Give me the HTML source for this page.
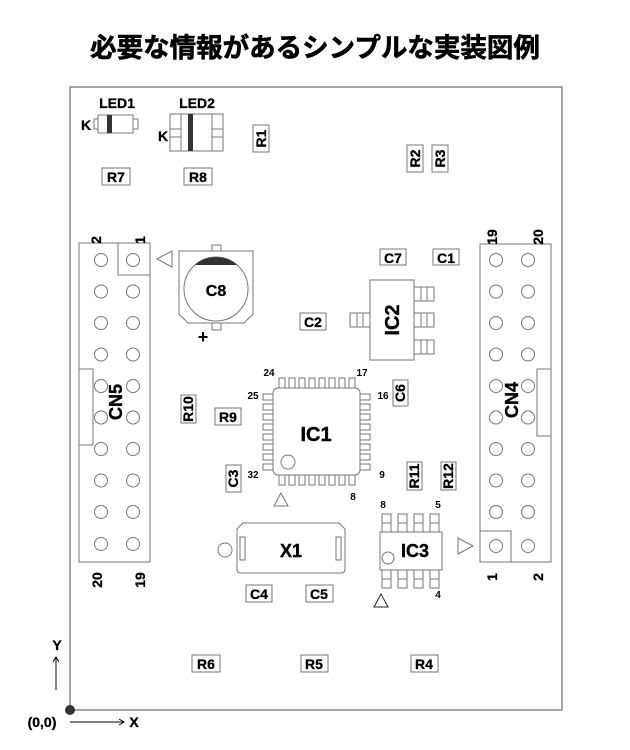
<!DOCTYPE html>
<html><head><meta charset="utf-8"><style>
html,body{margin:0;padding:0;background:#fff;}
svg{display:block;font-family:"Liberation Sans","Noto Sans CJK JP",sans-serif;}
.b{fill:none;stroke:#888;stroke-width:1.5}
.p{fill:#fff;stroke:#777;stroke-width:1}
.t{font-weight:bold;font-size:14px;fill:#000;stroke:#000;stroke-width:0.3}
.s{font-weight:bold;font-size:10px;fill:#000}
.l{font-weight:bold;font-size:18px;fill:#000;stroke:#000;stroke-width:0.4}
</style></head><body>
<svg width="630" height="750" viewBox="0 0 630 750">
<text x="315" y="57" text-anchor="middle" style="font-weight:bold;font-size:26.5px;stroke:#000;stroke-width:0.6">必要な情報があるシンプルな実装図例</text>
<rect x="70" y="87" width="492" height="623" class="b"/>

<text x="117" y="108" text-anchor="middle" class="t">LED1</text>
<text x="86" y="130" text-anchor="middle" class="t">K</text>
<rect x="94" y="119" width="5" height="10" class="p"/>
<rect x="133" y="119" width="5" height="10" class="p"/>
<rect x="98" y="115" width="35" height="18" class="p"/>
<rect x="107" y="115" width="5" height="18" fill="#333"/>
<text x="197" y="108" text-anchor="middle" class="t">LED2</text>
<text x="163" y="141" text-anchor="middle" class="t">K</text>
<rect x="170" y="114" width="53" height="37" class="p"/>
<line x1="181" y1="114" x2="181" y2="151" class="p"/>
<line x1="212" y1="114" x2="212" y2="151" class="p"/>
<line x1="170" y1="129" x2="181" y2="129" class="p"/><line x1="170" y1="137" x2="181" y2="137" class="p"/>
<line x1="212" y1="129" x2="223" y2="129" class="p"/><line x1="212" y1="137" x2="223" y2="137" class="p"/>
<rect x="188" y="114" width="5" height="37" fill="#333"/>

<g>
<rect x="102" y="168" width="28" height="17" class="p"/><text x="116" y="182" text-anchor="middle" class="t">R7</text>
<rect x="184" y="168" width="28" height="17" class="p"/><text x="198" y="182" text-anchor="middle" class="t">R8</text>
<rect x="380" y="249" width="26" height="16" class="p"/><text x="393" y="263" text-anchor="middle" class="t">C7</text>
<rect x="433" y="249" width="26" height="16" class="p"/><text x="446" y="263" text-anchor="middle" class="t">C1</text>
<rect x="300" y="313" width="26" height="17" class="p"/><text x="313" y="327" text-anchor="middle" class="t">C2</text>
<rect x="215" y="408" width="26" height="17" class="p"/><text x="228" y="422" text-anchor="middle" class="t">R9</text>
<rect x="246" y="585" width="26" height="17" class="p"/><text x="259" y="599" text-anchor="middle" class="t">C4</text>
<rect x="306" y="585" width="27" height="17" class="p"/><text x="319" y="599" text-anchor="middle" class="t">C5</text>
<rect x="192" y="655" width="28" height="17" class="p"/><text x="206" y="669" text-anchor="middle" class="t">R6</text>
<rect x="301" y="655" width="27" height="17" class="p"/><text x="314" y="669" text-anchor="middle" class="t">R5</text>
<rect x="411" y="655" width="27" height="17" class="p"/><text x="424" y="669" text-anchor="middle" class="t">R4</text>
</g>
<g>
<rect x="253" y="125" width="16" height="27" class="p"/><text transform="translate(266,138.5) rotate(-90)" text-anchor="middle" class="t">R1</text>
<rect x="407" y="145" width="16" height="27" class="p"/><text transform="translate(420,158.5) rotate(-90)" text-anchor="middle" class="t">R2</text>
<rect x="432" y="145" width="16" height="27" class="p"/><text transform="translate(445,158.5) rotate(-90)" text-anchor="middle" class="t">R3</text>
<rect x="181" y="395" width="15" height="28" class="p"/><text transform="translate(193,409) rotate(-90)" text-anchor="middle" class="t">R10</text>
<rect x="393" y="380" width="15" height="26" class="p"/><text transform="translate(405,393) rotate(-90)" text-anchor="middle" class="t">C6</text>
<rect x="226" y="465" width="15" height="27" class="p"/><text transform="translate(238,478.5) rotate(-90)" text-anchor="middle" class="t">C3</text>
<rect x="407" y="462" width="15" height="28" class="p"/><text transform="translate(419,476) rotate(-90)" text-anchor="middle" class="t">R11</text>
<rect x="441" y="462" width="15" height="28" class="p"/><text transform="translate(453,476) rotate(-90)" text-anchor="middle" class="t">R12</text>
</g>

<rect x="79" y="243" width="71" height="319" class="p"/>
<rect x="118" y="243" width="32" height="32" class="p"/>
<rect x="79" y="369" width="14" height="76" class="p"/>
<g class="p">
<circle cx="101" cy="260" r="6.5"/><circle cx="133" cy="260" r="6.5"/>
<circle cx="101" cy="291.5" r="6.5"/><circle cx="133" cy="291.5" r="6.5"/>
<circle cx="101" cy="323" r="6.5"/><circle cx="133" cy="323" r="6.5"/>
<circle cx="101" cy="354.5" r="6.5"/><circle cx="133" cy="354.5" r="6.5"/>
<circle cx="101" cy="386" r="6.5"/><circle cx="133" cy="386" r="6.5"/>
<circle cx="101" cy="417.5" r="6.5"/><circle cx="133" cy="417.5" r="6.5"/>
<circle cx="101" cy="449" r="6.5"/><circle cx="133" cy="449" r="6.5"/>
<circle cx="101" cy="480.5" r="6.5"/><circle cx="133" cy="480.5" r="6.5"/>
<circle cx="101" cy="512" r="6.5"/><circle cx="133" cy="512" r="6.5"/>
<circle cx="101" cy="544" r="6.5"/><circle cx="133" cy="544" r="6.5"/>
</g>
<polygon points="157,259 172,251 172,267" class="p"/>
<text transform="translate(122,402) rotate(-90)" text-anchor="middle" class="l">CN5</text>
<text transform="translate(101,240) rotate(-90)" text-anchor="middle" class="t">2</text>
<text transform="translate(145,240) rotate(-90)" text-anchor="middle" class="t">1</text>
<text transform="translate(102,580) rotate(-90)" text-anchor="middle" class="t">20</text>
<text transform="translate(145,580) rotate(-90)" text-anchor="middle" class="t">19</text>

<rect x="480" y="244" width="71" height="318" class="p"/>
<rect x="480" y="531" width="31" height="31" class="p"/>
<rect x="537" y="369" width="14" height="67" class="p"/>
<g class="p">
<circle cx="496" cy="260" r="6.5"/><circle cx="528" cy="260" r="6.5"/>
<circle cx="496" cy="291.5" r="6.5"/><circle cx="528" cy="291.5" r="6.5"/>
<circle cx="496" cy="323" r="6.5"/><circle cx="528" cy="323" r="6.5"/>
<circle cx="496" cy="354.5" r="6.5"/><circle cx="528" cy="354.5" r="6.5"/>
<circle cx="496" cy="386" r="6.5"/><circle cx="528" cy="386" r="6.5"/>
<circle cx="496" cy="417.5" r="6.5"/><circle cx="528" cy="417.5" r="6.5"/>
<circle cx="496" cy="449" r="6.5"/><circle cx="528" cy="449" r="6.5"/>
<circle cx="496" cy="480.5" r="6.5"/><circle cx="528" cy="480.5" r="6.5"/>
<circle cx="496" cy="512" r="6.5"/><circle cx="528" cy="512" r="6.5"/>
<circle cx="496" cy="546" r="6.5"/><circle cx="528" cy="546" r="6.5"/>
</g>
<polygon points="473,546 458,538 458,554" class="p"/>
<text transform="translate(518,400) rotate(-90)" text-anchor="middle" class="l">CN4</text>
<text transform="translate(497,237) rotate(-90)" text-anchor="middle" class="t">19</text>
<text transform="translate(543,237) rotate(-90)" text-anchor="middle" class="t">20</text>
<text transform="translate(497,577) rotate(-90)" text-anchor="middle" class="t">1</text>
<text transform="translate(543,577) rotate(-90)" text-anchor="middle" class="t">2</text>

<rect x="212" y="245" width="9" height="7" class="p"/>
<rect x="212" y="322" width="9" height="8" class="p"/>
<polygon points="179,251 253,251 253,314 244,323 188,323 179,314" class="p"/>
<circle cx="216" cy="289" r="32" class="p"/>
<path d="M195,265 A32,32 0 0 1 237,265 Z" fill="#333"/>
<text x="216" y="296" text-anchor="middle" class="t" style="font-size:16px">C8</text>
<text x="203" y="343" text-anchor="middle" style="font-weight:bold;font-size:18px">+</text>

<rect x="370" y="280" width="44" height="80" class="p"/>
<g class="p">
<rect x="414" y="287" width="20" height="14"/><line x1="421" y1="287" x2="421" y2="301"/><line x1="427" y1="287" x2="427" y2="301"/>
<rect x="414" y="313" width="20" height="14"/><line x1="421" y1="313" x2="421" y2="327"/><line x1="427" y1="313" x2="427" y2="327"/>
<rect x="414" y="340" width="20" height="14"/><line x1="421" y1="340" x2="421" y2="354"/><line x1="427" y1="340" x2="427" y2="354"/>
<rect x="350" y="313" width="20" height="14"/><line x1="357" y1="313" x2="357" y2="327"/><line x1="363" y1="313" x2="363" y2="327"/>
</g>
<text transform="translate(399,320) rotate(-90)" text-anchor="middle" class="l" style="font-size:20px">IC2</text>

<g class="p">
<path d="M279,388v-10h6v10M289,388v-10h6v10M299,388v-10h6v10M309,388v-10h6v10M319,388v-10h6v10M329,388v-10h6v10M339,388v-10h6v10M349,388v-10h6v10"/>
<path d="M279,475v10h6v-10M289,475v10h6v-10M299,475v10h6v-10M309,475v10h6v-10M319,475v10h6v-10M329,475v10h6v-10M339,475v10h6v-10M349,475v10h6v-10"/>
<path d="M273,394h-10v6h10M273,404h-10v6h10M273,414h-10v6h10M273,424h-10v6h10M273,434h-10v6h10M273,444h-10v6h10M273,454h-10v6h10M273,464h-10v6h10"/>
<path d="M360,394h10v6h-10M360,404h10v6h-10M360,414h10v6h-10M360,424h10v6h-10M360,434h10v6h-10M360,444h10v6h-10M360,454h10v6h-10M360,464h10v6h-10"/>
</g>
<rect x="273" y="388" width="87" height="87" rx="5" class="p"/>
<circle cx="288" cy="462" r="7" class="p"/>
<text x="316" y="441" text-anchor="middle" class="l" style="font-size:20px">IC1</text>
<text x="269" y="376" text-anchor="middle" class="s">24</text>
<text x="362" y="376" text-anchor="middle" class="s">17</text>
<text x="253" y="399" text-anchor="middle" class="s">25</text>
<text x="383" y="399" text-anchor="middle" class="s">16</text>
<text x="253" y="478" text-anchor="middle" class="s">32</text>
<text x="382" y="478" text-anchor="middle" class="s">9</text>
<text x="353" y="500" text-anchor="middle" class="s">8</text>
<polygon points="281,493 274,506 288,506" class="p"/>

<path d="M243,523 H339 L345,529 V569 Q345,573 341,573 H241 Q237,573 237,569 V529 Z" class="p"/>
<rect x="240" y="537" width="5" height="23" class="p"/>
<rect x="336" y="537" width="5" height="23" class="p"/>
<circle cx="225" cy="550" r="7" class="p"/>
<text x="291" y="557" text-anchor="middle" class="l">X1</text>

<g class="p">
<rect x="382" y="514" width="9" height="18"/><line x1="382" y1="523" x2="391" y2="523"/>
<rect x="398" y="514" width="9" height="18"/><line x1="398" y1="523" x2="407" y2="523"/>
<rect x="414" y="514" width="9" height="18"/><line x1="414" y1="523" x2="423" y2="523"/>
<rect x="430" y="514" width="9" height="18"/><line x1="430" y1="523" x2="439" y2="523"/>
<rect x="382" y="570" width="9" height="18"/><line x1="382" y1="579" x2="391" y2="579"/>
<rect x="398" y="570" width="9" height="18"/><line x1="398" y1="579" x2="407" y2="579"/>
<rect x="414" y="570" width="9" height="18"/><line x1="414" y1="579" x2="423" y2="579"/>
<rect x="430" y="570" width="9" height="18"/><line x1="430" y1="579" x2="439" y2="579"/>
</g>
<rect x="380" y="532" width="62" height="38" class="p"/>
<circle cx="388" cy="558" r="6" class="p"/>
<text x="415" y="557" text-anchor="middle" class="l">IC3</text>
<text x="383" y="508" text-anchor="middle" class="s">8</text>
<text x="438" y="508" text-anchor="middle" class="s">5</text>
<text x="438" y="598" text-anchor="middle" class="s">4</text>
<polygon points="381,594 374,607 388,607" fill="#fff" stroke="#222"/>

<circle cx="70" cy="710" r="5" fill="#333"/>
<line x1="56" y1="690" x2="56" y2="658" stroke="#000"/>
<path d="M53,662 L56,657 L59,662" fill="none" stroke="#000"/>
<text x="57" y="650" text-anchor="middle" class="t">Y</text>
<text x="42" y="727" text-anchor="middle" class="t">(0,0)</text>
<line x1="70" y1="722" x2="124" y2="722" stroke="#000"/>
<path d="M119,719 L124,722 L119,725" fill="none" stroke="#000"/>
<text x="134" y="727" text-anchor="middle" class="t">X</text>
</svg>
</body></html>
